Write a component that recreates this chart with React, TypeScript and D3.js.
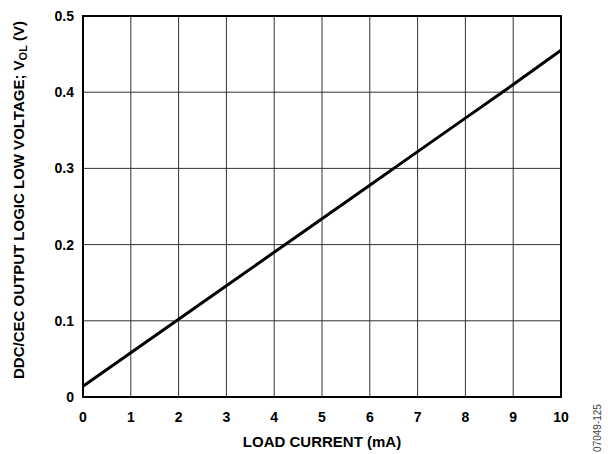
import React from 'react';
import * as d3 from 'd3';

const loadCurrent = [0, 1, 2, 3, 4, 5, 6, 7, 8, 9, 10];
const vol = [0.014, 0.058, 0.102, 0.146, 0.190, 0.234, 0.278, 0.322, 0.366, 0.410, 0.455];
const xTicks = [0, 1, 2, 3, 4, 5, 6, 7, 8, 9, 10];
const yTicks = [0, 0.1, 0.2, 0.3, 0.4, 0.5];
const yTickLabels = ['0', '0.1', '0.2', '0.3', '0.4', '0.5'];

const W = 608;
const H = 454;
const margin = { left: 83, right: 47, top: 16, bottom: 57 };
const font = 'Arial, "Liberation Sans", Helvetica, sans-serif';

export default function App() {
  const x = d3.scaleLinear().domain([0, 10]).range([margin.left, W - margin.right]);
  const y = d3.scaleLinear().domain([0, 0.5]).range([H - margin.bottom, margin.top]);
  const line = d3.line<number>()
    .x((_, i) => x(loadCurrent[i]))
    .y(d => y(d));

  return (
    <svg width={W} height={H} style={{ position: 'absolute', left: 0, top: 0 }} fontFamily={font}>
      <rect width={W} height={H} fill="#fff" />
      {/* grid */}
      {xTicks.slice(1, -1).map(t => (
        <line key={'gx' + t} x1={x(t)} x2={x(t)} y1={y(0)} y2={y(0.5)} stroke="#333" strokeWidth={1} />
      ))}
      {yTicks.slice(1, -1).map(t => (
        <line key={'gy' + t} x1={x(0)} x2={x(10)} y1={y(t)} y2={y(t)} stroke="#333" strokeWidth={1} />
      ))}
      {/* data */}
      <path d={line(vol) || ''} fill="none" stroke="#000" strokeWidth={3} />
      {/* frame */}
      <rect x={x(0)} y={y(0.5)} width={x(10) - x(0)} height={y(0) - y(0.5)} fill="none" stroke="#000" strokeWidth={2} />
      {/* tick labels */}
      {yTicks.map((t, i) => (
        <text key={'ty' + t} x={x(0) - 9} y={y(t)} dy="0.36em" textAnchor="end" fontSize={14} fontWeight="bold">
          {yTickLabels[i]}
        </text>
      ))}
      {xTicks.map(t => (
        <text key={'tx' + t} x={x(t)} y={y(0) + 25} textAnchor="middle" fontSize={14} fontWeight="bold">
          {t}
        </text>
      ))}
      <text x={(x(0) + x(10)) / 2} y={447} textAnchor="middle" fontSize={15} fontWeight="bold">
        LOAD CURRENT (mA)
      </text>
      <text transform={`translate(24, 200) rotate(-90)`} textAnchor="middle" fontSize={15} fontWeight="bold">
        DDC/CEC OUTPUT LOGIC LOW VOLTAGE; V<tspan fontSize={11} dy={3}>OL</tspan><tspan dy={-3}> (V)</tspan>
      </text>
      <text transform={`translate(601, 428) rotate(-90)`} textAnchor="middle" fontSize={10} fill="#444">
        07049-125
      </text>
    </svg>
  );
}
